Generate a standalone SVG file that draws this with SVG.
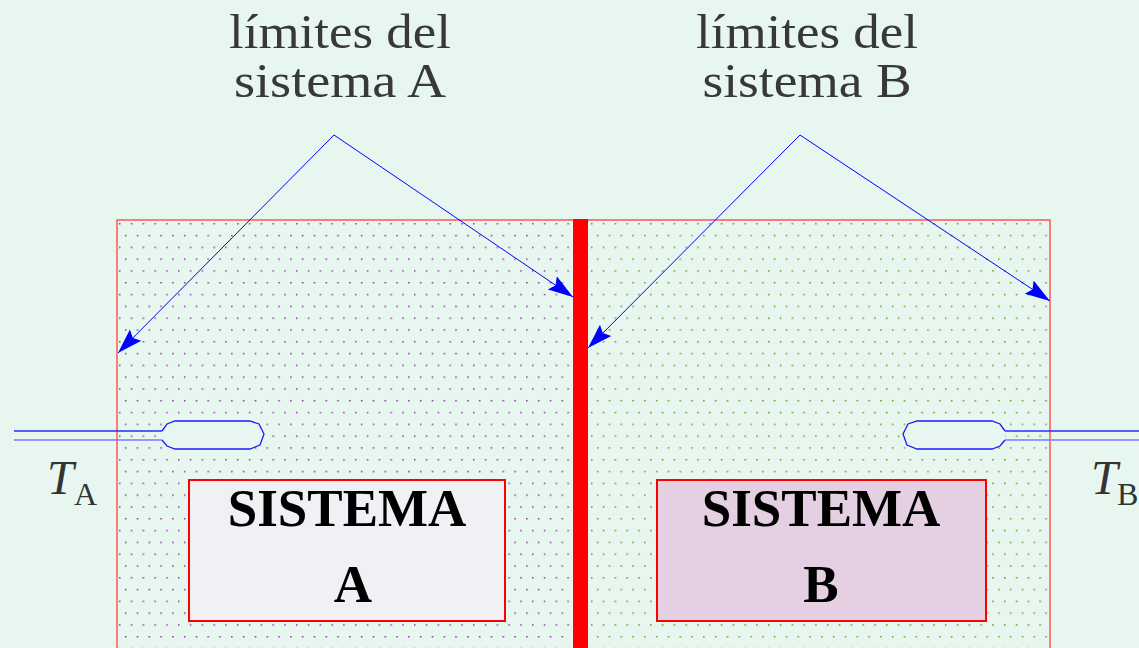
<svg xmlns="http://www.w3.org/2000/svg" width="1139" height="648" viewBox="0 0 1139 648">
<defs>
<style>
.title{font-family:"Liberation Serif",serif;font-size:48px;fill:#383838;text-anchor:middle}
.sys{font-family:"Liberation Serif",serif;font-size:53px;font-weight:bold;fill:#000;text-anchor:middle}
.tvar{font-family:"Liberation Serif",serif;fill:#333}
.arrow{stroke:#0000ff;stroke-width:1;fill:none;marker-end:url(#ah)}
.stemTop{stroke:#2a2aff;stroke-width:1.5;fill:none}
.stemBot{stroke:#7a7aff;stroke-width:1.5;fill:none}
.bulb{stroke:#1a1aff;stroke-width:1.3;fill:#e8f6f0}
.box{stroke:#ff0000;stroke-width:2}
</style>
<pattern id="dotsA" width="11.8" height="23.6" patternUnits="userSpaceOnUse" x="118" y="222">
<rect x="1" y="1" width="1.5" height="1.5" fill="#9038a8"/>
<rect x="6.9" y="12.8" width="1.5" height="1.5" fill="#8a30a0"/>
</pattern>
<pattern id="dotsB" width="11.8" height="23.6" patternUnits="userSpaceOnUse" x="590" y="222">
<rect x="1" y="1" width="1.5" height="1.5" fill="#589a18"/>
<rect x="6.9" y="12.8" width="1.5" height="1.5" fill="#60a020"/>
</pattern>
<marker id="ah" markerUnits="userSpaceOnUse" markerWidth="28" markerHeight="20" refX="25" refY="10" orient="auto">
<path d="M0,2 L25,10 L0,18 L4,10 Z" fill="#0000ff"/>
</marker>
</defs>
<rect width="1139" height="648" fill="#e8f6f0"/>

<g id="sistema-frame">
<rect x="117" y="220" width="456" height="440" fill="url(#dotsA)"/>
<rect x="588" y="220" width="462" height="440" fill="url(#dotsB)"/>
<rect x="117" y="220" width="933" height="440" fill="none" stroke="#ff5555" stroke-width="1.5"/>
</g>

<g id="pared">
<rect x="573" y="219" width="15" height="440" fill="#ff0000"/>
</g>

<g id="sistema-A">
<rect class="box" x="189" y="480" width="316" height="141" fill="#f0f0f5"/>
<text class="sys" x="347" y="526">SISTEMA</text>
<text class="sys" x="353" y="602">A</text>
</g>

<g id="sistema-B">
<rect class="box" x="657" y="480" width="329" height="141" fill="#e4d0e2"/>
<text class="sys" x="821" y="526">SISTEMA</text>
<text class="sys" x="821" y="602">B</text>
</g>

<g id="termometro-A">
<path class="stemTop" d="M14,431 H162"/>
<path class="stemBot" d="M14,440 H162"/>
<path class="bulb" d="M162,431 L167,424 L175,421 L250,421 L259,424 L264,434 L260,445 L250,449 L175,449 L167,446 L162,440"/>
<text class="tvar" x="47" y="494" font-size="48" font-style="italic">T</text>
<text class="tvar" x="74" y="505" font-size="32">A</text>
</g>

<g id="termometro-B">
<path class="stemTop" d="M1005,431 H1139"/>
<path class="stemBot" d="M1005,440 H1139"/>
<path class="bulb" d="M1005,431 L1000,424 L992,421 L917,421 L908,424 L903,434 L907,445 L917,449 L992,449 L1000,446 L1005,440"/>
<text class="tvar" x="1091" y="494" font-size="48" font-style="italic">T</text>
<text class="tvar" x="1117" y="505" font-size="32">B</text>
</g>

<g id="etiqueta-A">
<text class="title" x="340" y="48" textLength="222" lengthAdjust="spacingAndGlyphs">límites del</text>
<text class="title" x="340" y="97" textLength="212" lengthAdjust="spacingAndGlyphs">sistema A</text>
</g>
<g id="etiqueta-B">
<text class="title" x="807" y="48" textLength="222" lengthAdjust="spacingAndGlyphs">límites del</text>
<text class="title" x="807" y="97" textLength="209" lengthAdjust="spacingAndGlyphs">sistema B</text>
</g>

<g id="conectores">
<path class="arrow" d="M334,135 L118,353"/>
<path class="arrow" d="M334,135 L573,297"/>
<path class="arrow" d="M800,135 L588,348"/>
<path class="arrow" d="M800,135 L1050,301"/>
</g>
</svg>
